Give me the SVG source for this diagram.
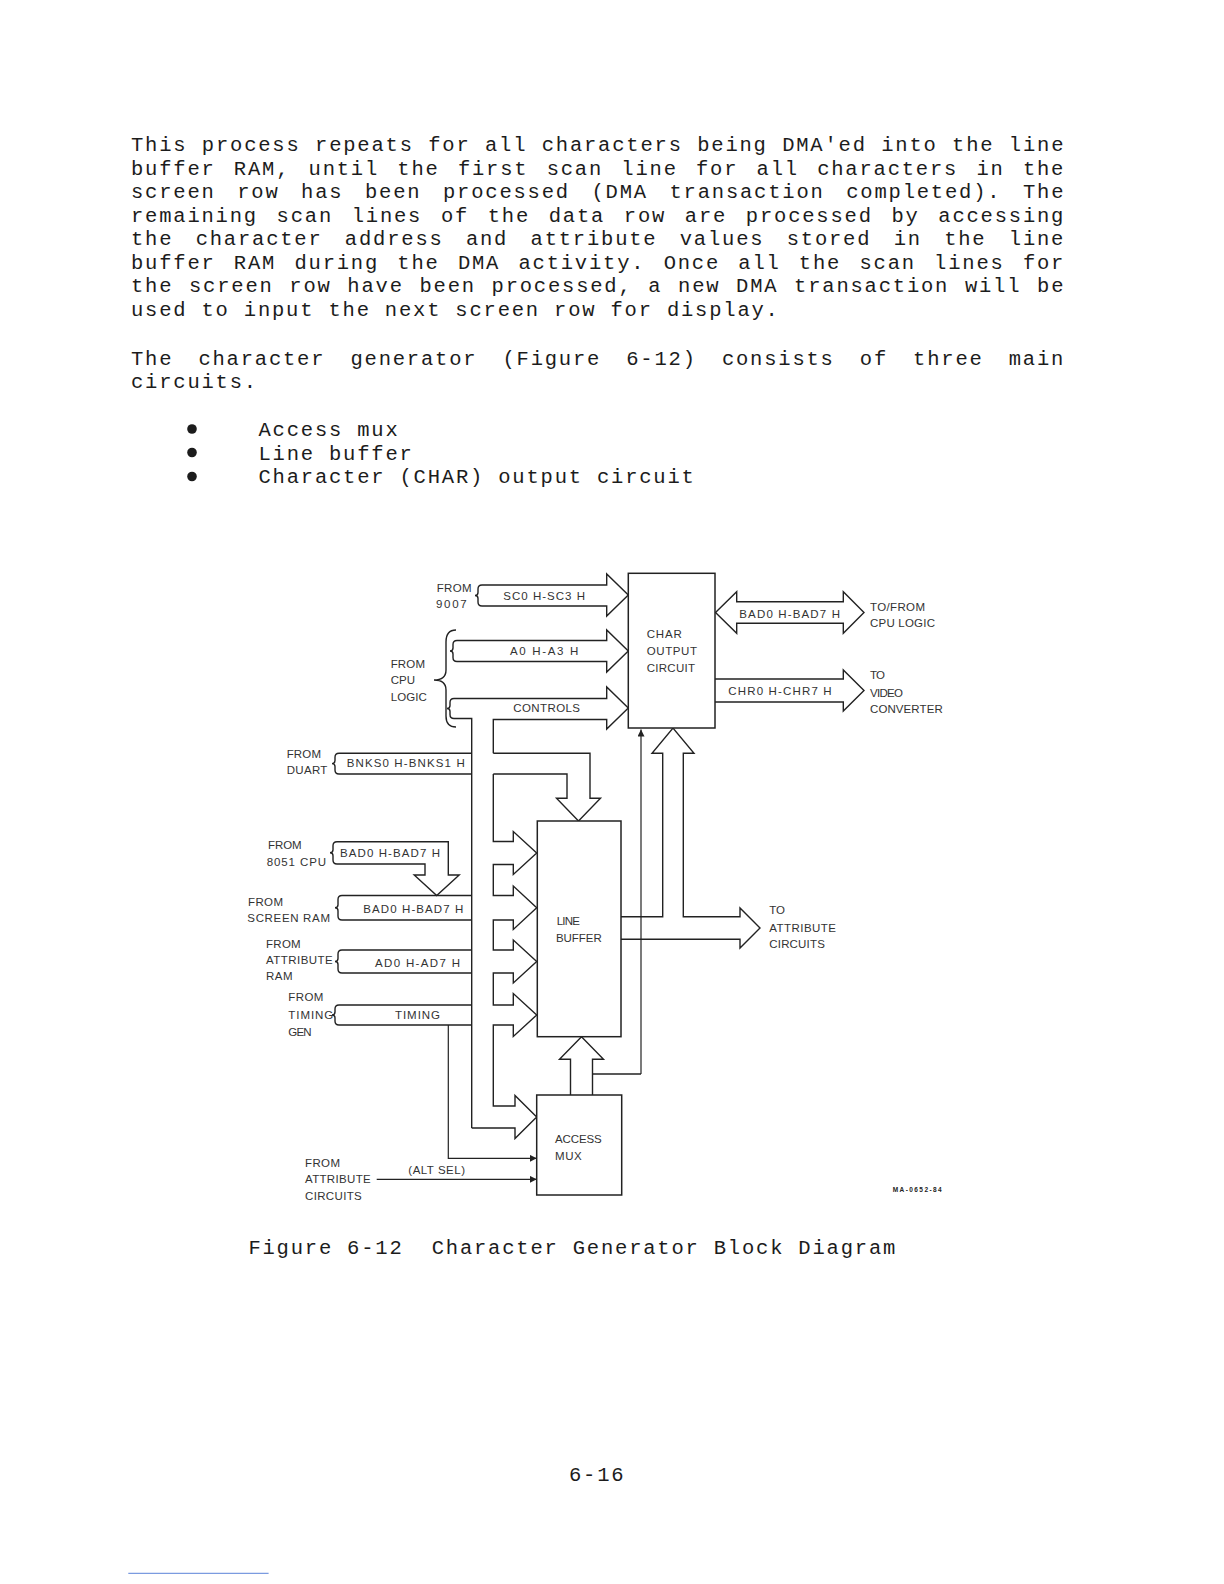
<svg xmlns="http://www.w3.org/2000/svg" width="1224" height="1584" viewBox="0 0 1224 1584">
<style>
.body{font-family:"Liberation Mono","DejaVu Sans Mono",monospace;font-size:20.5px;letter-spacing:1.8px;fill:#1c1c1c}
.lb{font-family:"Liberation Sans",Arial,sans-serif;font-size:11.5px;fill:#333}
.tag{font-family:"Liberation Sans",Arial,sans-serif;font-size:6.5px;font-weight:bold;fill:#222}
.ln{fill:none;stroke:#222;stroke-width:1.4;stroke-linejoin:miter}
.box{fill:#fff;stroke:#222;stroke-width:1.5}
.sig{fill:none;stroke:#222;stroke-width:1.2}
</style>
<defs>
<marker id="ah" markerUnits="userSpaceOnUse" markerWidth="8" markerHeight="8" refX="7" refY="3.5" orient="auto">
<path d="M0,0 L7,3.5 L0,7 Z" fill="#222"/>
</marker>
</defs>
<rect width="1224" height="1584" fill="#fff"/>

<g id="page-text">
<text class="body" x="131" y="151" style="word-spacing:0.35px">This process repeats for all characters being DMA'ed into the line</text>
<text class="body" x="131" y="174.5" style="word-spacing:4.16px">buffer RAM, until the first scan line for all characters in the</text>
<text class="body" x="131" y="198" style="word-spacing:7.49px">screen row has been processed (DMA transaction completed). The</text>
<text class="body" x="131" y="221.5" style="word-spacing:4.58px">remaining scan lines of the data row are processed by accessing</text>
<text class="body" x="131" y="245" style="word-spacing:8.22px">the character address and attribute values stored in the line</text>
<text class="body" x="131" y="268.5" style="word-spacing:4.16px">buffer RAM during the DMA activity. Once all the scan lines for</text>
<text class="body" x="131" y="292" style="word-spacing:1.6px">the screen row have been processed, a new DMA transaction will be</text>
<text class="body" x="131" y="315.5">used to input the next screen row for display.</text>
<text class="body" x="131" y="365" style="word-spacing:11px">The character generator (Figure 6-12) consists of three main</text>
<text class="body" x="131" y="387.5">circuits.</text>
<circle cx="192" cy="429" r="4.8" fill="#1c1c1c"/>
<circle cx="192" cy="452.5" r="4.8" fill="#1c1c1c"/>
<circle cx="192" cy="476.5" r="4.8" fill="#1c1c1c"/>
<text class="body" x="258.5" y="436">Access mux</text>
<text class="body" x="258.5" y="459.5">Line buffer</text>
<text class="body" x="258.5" y="483">Character (CHAR) output circuit</text>
<text class="body" x="248.4" y="1254" xml:space="preserve">Figure 6-12  Character Generator Block Diagram</text>
<text class="body" x="569" y="1481">6-16</text>
<line x1="128.3" y1="1573.4" x2="268.6" y2="1573.4" stroke="#7b9be0" stroke-width="1.2"/>
</g>

<g id="connectors">
<!-- SC0 bus -->
<path class="ln" d="M482,585 H606.7 V574 L628.3,595 L606.7,616 V606 H482"/>
<path class="ln" d="M482,585 Q478,585 478,589 L478,592.5 Q478,595.5 475,595.5 Q478,595.5 478,598.5 L478,602 Q478,606 482,606"/>
<!-- A0 bus -->
<path class="ln" d="M457,640.5 H606.7 V630 L628.3,651 L606.7,672 V661.5 H457"/>
<path class="ln" d="M457,640.5 Q453,640.5 453,644.5 L453,648 Q453,651 450,651 Q453,651 453,654 L453,657.5 Q453,661.5 457,661.5"/>
<!-- CPU brace -->
<path class="ln" d="M456,630 Q446,630 446,642 L446,670 Q446,680 434,680 Q446,680 446,690 L446,716 Q446,727 456,727"/>
<!-- CONTROLS bus and vertical bus -->
<path class="ln" d="M454,698.5 H606.7 V687 L628.3,708 L606.7,729 V719.5 H493.3 V753.3"/>
<path class="ln" d="M454,698.5 Q450,698.5 450,702.5 L450,705.5 Q450,708.5 447,708.5 Q450,708.5 450,711.5 L450,714.5 Q450,718.5 454,718.5 H471.7 V1128"/>
<path class="ln" d="M493.3,774 V841.5 H513.3 V831.5 L536.7,853 L513.3,874.5 V864.5 H493.3 V895.5 H513.3 V886 L536.7,907.75 L513.3,929.5 V920 H493.3 V950 H513.3 V940 L536.7,961.5 L513.3,983 V973 H493.3 V1005 H513.3 V993.5 L536.7,1015 L513.3,1036.5 V1025 H493.3 V1106 H515 V1095.5 L536.7,1117 L515,1138.5 V1128 H471.7"/>
<!-- BNKS bus -->
<path class="ln" d="M339,753.3 H471.7 M339,774 H471.7"/>
<path class="ln" d="M339,753.3 Q335,753.3 335,757.3 L335,760.6 Q335,763.6 332,763.6 Q335,763.6 335,766.6 L335,770 Q335,774 339,774"/>
<path class="ln" d="M493.3,753.3 H590 V798.3 H600.5 L578.5,821 L556.5,798.3 H567 V774 H493.3"/>
<!-- 8051 bus -->
<path class="ln" d="M337,841.7 H448.3 V875 H459.2 L436.7,895.5 L414.2,875 H425 V864 H337"/>
<path class="ln" d="M337,841.7 Q333,841.7 333,845.7 L333,849.8 Q333,852.8 330,852.8 Q333,852.8 333,855.8 L333,860 Q333,864 337,864"/>
<!-- SCREEN RAM bus -->
<path class="ln" d="M342,895.5 H471.7 M342,920 H471.7"/>
<path class="ln" d="M342,895.5 Q338,895.5 338,899.5 L338,904.7 Q338,907.7 335,907.7 Q338,907.7 338,910.7 L338,916 Q338,920 342,920"/>
<!-- ATTRIBUTE RAM bus -->
<path class="ln" d="M342,950 H471.7 M342,973 H471.7"/>
<path class="ln" d="M342,950 Q338,950 338,954 L338,958.5 Q338,961.5 335,961.5 Q338,961.5 338,964.5 L338,969 Q338,973 342,973"/>
<!-- TIMING bus -->
<path class="ln" d="M339,1005 H471.7 M339,1025 H471.7"/>
<path class="ln" d="M339,1005 Q335,1005 335,1009 L335,1012 Q335,1015 332,1015 Q335,1015 335,1018 L335,1021 Q335,1025 339,1025"/>
<path class="sig" d="M448.3,1025 V1158.3 H536.7" marker-end="url(#ah)"/>
<!-- ALT SEL -->
<path class="sig" d="M376.7,1179.3 H536.7" marker-end="url(#ah)"/>
<!-- LINE BUFFER output -->
<path class="ln" d="M621,916.7 H662.7 V753.3 H652 L673,728 L694,753.3 H683.3 V916.7 H740 V908 L760,928 L740,948 V939.3 H621"/>
<!-- line from CHAR OUTPUT down -->
<path class="sig" d="M641,1074 V729.5" marker-end="url(#ah)"/>
<path class="ln" d="M641,1074 H592.5"/>
<!-- ACCESS MUX to LINE BUFFER -->
<path class="ln" d="M570.5,1095 V1059.3 H559.5 L581.5,1036.7 L603.5,1059.3 H592.5 V1095"/>
<!-- BAD0 bidirectional -->
<path class="ln" d="M715.5,612.5 L736.7,591.7 V601.7 H843.3 V591.7 L864,612.5 L843.3,633.3 V623.3 H736.7 V633.3 Z"/>
<!-- CHR0 -->
<path class="ln" d="M715,679 H843.3 V670 L864,690.5 L843.3,711 V702 H715"/>
</g>

<g id="char-output">
<rect class="box" x="628.3" y="573.3" width="86.7" height="154.7"/>
<text class="lb" x="646.7" y="638.1" textLength="35" lengthAdjust="spacing">CHAR</text>
<text class="lb" x="646.7" y="654.6" textLength="50.3" lengthAdjust="spacing">OUTPUT</text>
<text class="lb" x="646.7" y="671.6" textLength="48.3" lengthAdjust="spacing">CIRCUIT</text>
</g>
<g id="line-buffer">
<rect class="box" x="537.3" y="821" width="83.7" height="215.7"/>
<text class="lb" x="556.7" y="924.9" textLength="23.3" lengthAdjust="spacing">LINE</text>
<text class="lb" x="556" y="941.6" textLength="45.7" lengthAdjust="spacing">BUFFER</text>
</g>
<g id="access-mux">
<rect class="box" x="536.7" y="1095" width="85" height="100"/>
<text class="lb" x="555" y="1143.1" textLength="46.7" lengthAdjust="spacing">ACCESS</text>
<text class="lb" x="555" y="1159.7" textLength="26.7" lengthAdjust="spacing">MUX</text>
</g>

<g id="labels">
<text class="lb" x="436.7" y="591.6" textLength="35" lengthAdjust="spacing">FROM</text>
<text class="lb" x="436" y="607.9" textLength="30.7" lengthAdjust="spacing">9007</text>
<text class="lb" x="503.3" y="600.1" textLength="81.7" lengthAdjust="spacing">SC0 H-SC3 H</text>
<text class="lb" x="510" y="655.1" textLength="68.3" lengthAdjust="spacing">A0 H-A3 H</text>
<text class="lb" x="513.3" y="711.6" textLength="66.7" lengthAdjust="spacing">CONTROLS</text>
<text class="lb" x="390.7" y="667.8" textLength="34.3" lengthAdjust="spacing">FROM</text>
<text class="lb" x="390.7" y="684.4" textLength="24.3" lengthAdjust="spacing">CPU</text>
<text class="lb" x="390.7" y="701.1" textLength="36" lengthAdjust="spacing">LOGIC</text>
<text class="lb" x="739.3" y="618.1" textLength="100.7" lengthAdjust="spacing">BAD0 H-BAD7 H</text>
<text class="lb" x="870" y="610.8" textLength="55" lengthAdjust="spacing">TO/FROM</text>
<text class="lb" x="870" y="627.4" textLength="65" lengthAdjust="spacing">CPU LOGIC</text>
<text class="lb" x="728.3" y="695.1" textLength="103.3" lengthAdjust="spacing">CHR0 H-CHR7 H</text>
<text class="lb" x="870" y="679.4" textLength="15" lengthAdjust="spacing">TO</text>
<text class="lb" x="870" y="696.6" textLength="33" lengthAdjust="spacing">VIDEO</text>
<text class="lb" x="870" y="713.3" textLength="72.7" lengthAdjust="spacing">CONVERTER</text>
<text class="lb" x="286.7" y="757.8" textLength="34.3" lengthAdjust="spacing">FROM</text>
<text class="lb" x="286.7" y="773.9" textLength="40.7" lengthAdjust="spacing">DUART</text>
<text class="lb" x="346.7" y="767.4" textLength="118" lengthAdjust="spacing">BNKS0 H-BNKS1 H</text>
<text class="lb" x="268" y="849.1" textLength="33.7" lengthAdjust="spacing">FROM</text>
<text class="lb" x="266.7" y="865.8" textLength="59.3" lengthAdjust="spacing">8051 CPU</text>
<text class="lb" x="340" y="856.6" textLength="100" lengthAdjust="spacing">BAD0 H-BAD7 H</text>
<text class="lb" x="248" y="905.6" textLength="35" lengthAdjust="spacing">FROM</text>
<text class="lb" x="247.3" y="921.6" textLength="82.7" lengthAdjust="spacing">SCREEN RAM</text>
<text class="lb" x="363.3" y="913.1" textLength="100" lengthAdjust="spacing">BAD0 H-BAD7 H</text>
<text class="lb" x="266" y="947.8" textLength="34.7" lengthAdjust="spacing">FROM</text>
<text class="lb" x="266" y="964.1" textLength="66.7" lengthAdjust="spacing">ATTRIBUTE</text>
<text class="lb" x="266" y="980.4" textLength="26.7" lengthAdjust="spacing">RAM</text>
<text class="lb" x="375" y="966.6" textLength="85" lengthAdjust="spacing">AD0 H-AD7 H</text>
<text class="lb" x="288.3" y="1001.1" textLength="35" lengthAdjust="spacing">FROM</text>
<text class="lb" x="288.3" y="1019.1" textLength="45" lengthAdjust="spacing">TIMING</text>
<text class="lb" x="288.3" y="1036.1" textLength="23.3" lengthAdjust="spacing">GEN</text>
<text class="lb" x="395" y="1019.1" textLength="45" lengthAdjust="spacing">TIMING</text>
<text class="lb" x="769.3" y="914.4" textLength="15.7" lengthAdjust="spacing">TO</text>
<text class="lb" x="769.3" y="931.6" textLength="66.6" lengthAdjust="spacing">ATTRIBUTE</text>
<text class="lb" x="769.3" y="948.1" textLength="55.5" lengthAdjust="spacing">CIRCUITS</text>
<text class="lb" x="305" y="1166.6" textLength="35" lengthAdjust="spacing">FROM</text>
<text class="lb" x="305" y="1183.1" textLength="65.7" lengthAdjust="spacing">ATTRIBUTE</text>
<text class="lb" x="305" y="1199.9" textLength="56.7" lengthAdjust="spacing">CIRCUITS</text>
<text class="lb" x="408.3" y="1174.1" textLength="56.7" lengthAdjust="spacing">(ALT SEL)</text>
<text class="tag" x="892.7" y="1191.5" textLength="49" lengthAdjust="spacing">MA-0652-84</text>
</g>
</svg>
